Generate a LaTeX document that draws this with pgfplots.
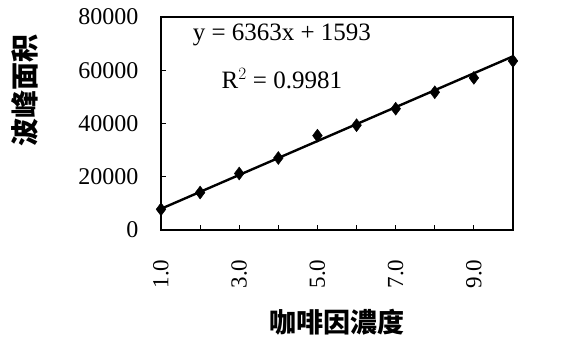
\documentclass[border=0pt]{standalone}
\usepackage{fontspec}
\setmainfont{Liberation Serif}
\newfontfamily\cjk{Noto Sans CJK SC}
\usepackage{pgfplots}
\pgfplotsset{compat=1.18}
\begin{document}
\begin{tikzpicture}[x=1pt,y=1pt]
\useasboundingbox (0,0) rectangle (567,341);
\begin{axis}[
  at={(161pt,111pt)}, anchor=south west,
  scale only axis, width=352pt, height=213pt,
  xmin=1, xmax=10, ymin=0, ymax=80000,
  axis line style={line width=1.6pt},
  xtick={1,...,10},
  xticklabels={1.0,,3.0,,5.0,,7.0,,9.0,},
  ytick={0,20000,40000,60000,80000},
  xtick pos=bottom, ytick pos=left,
  tick align=inside, major tick length=5pt,
  tick style={line width=1.2pt,black},
  scaled y ticks=false,
  /pgf/number format/assume math mode=true,
  yticklabel={\pgfmathprintnumber[1000 sep={}]{\tick}},
  yticklabel style={font=\fontsize{24}{26}\selectfont, xshift=-19pt},
  xticklabel style={font=\fontsize{23}{26}\selectfont, rotate=90, anchor=east},
  xticklabel shift=26pt,
  xlabel={\cjk\bfseries 咖啡因濃度},
  ylabel={\cjk\bfseries 波峰面积},
  xlabel style={font=\fontsize{27}{30}\selectfont, at={(rel axis cs:0.5,-0.432)}, anchor=center},
  ylabel style={font=\fontsize{28}{30}\selectfont, at={(rel axis cs:-0.386,0.657)}, anchor=center, rotate=0},
  clip=false,
]
\addplot[black, line width=2.4pt, no marks] coordinates {(1,7956) (10,65223)};
\addplot[only marks, mark=diamond*, mark size=6.5pt, black] coordinates {
(1,7780) (2,14070) (3,21230) (4,27040) (5,35440) (6,39370) (7,45560) (8,51740) (9,57150) (10,63500)};
\node[font=\fontsize{25}{28}\selectfont] at (axis cs:4.09,73300) {y = 6363x + 1593};
\node[font=\fontsize{25}{28}\selectfont] at (axis cs:4.09,56700) {R$^{2}$ = 0.9981};
\end{axis}
\end{tikzpicture}
\end{document}
